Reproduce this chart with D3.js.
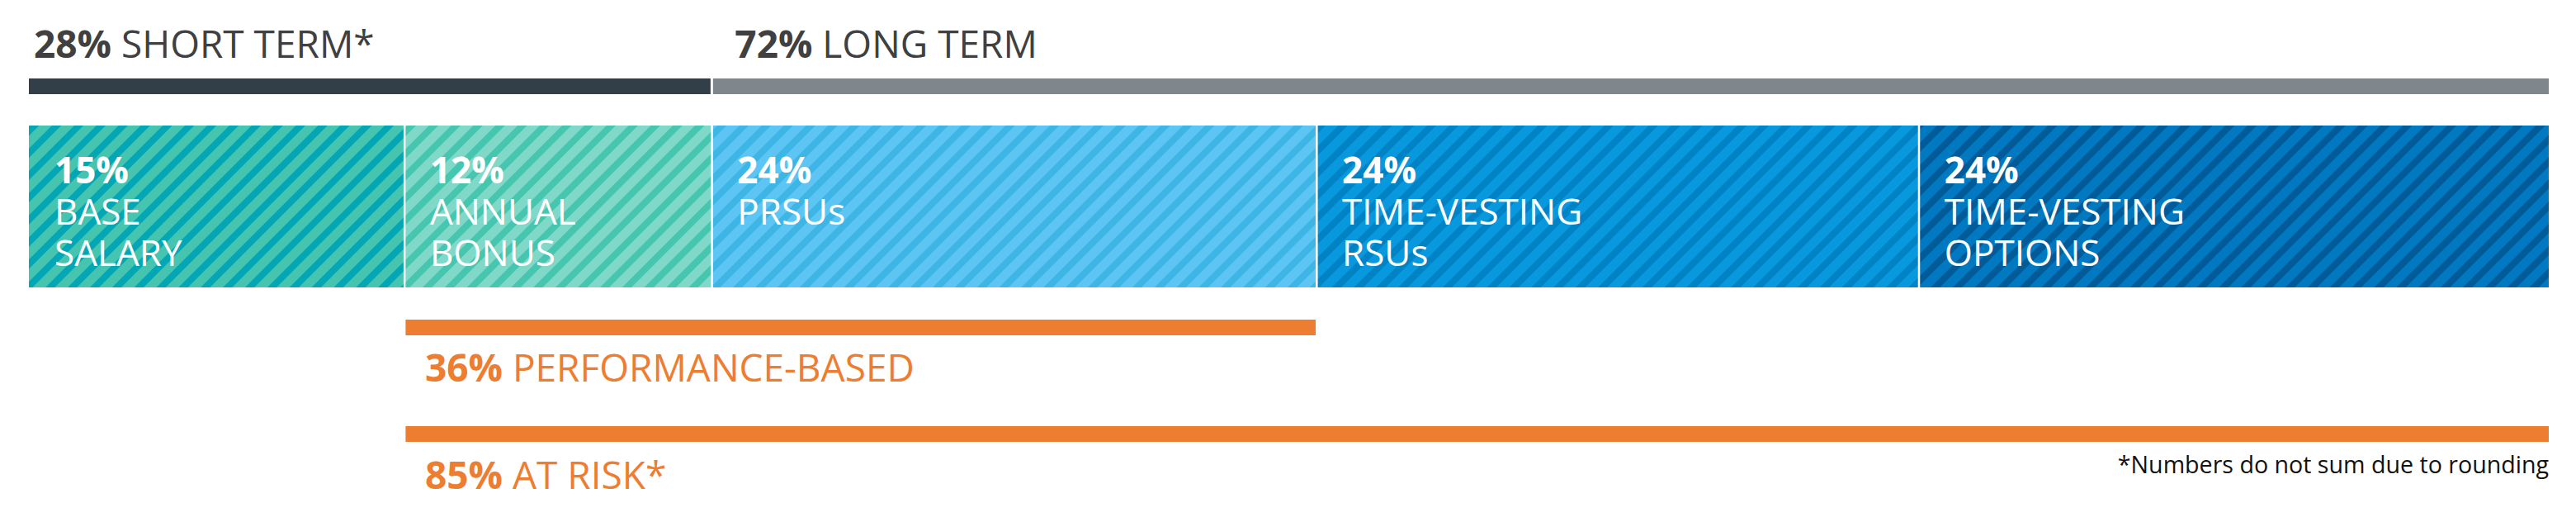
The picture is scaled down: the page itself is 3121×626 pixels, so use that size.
<!DOCTYPE html>
<html>
<head>
<meta charset="utf-8">
<script src="https://cdn.jsdelivr.net/npm/d3@7"></script>
<style>
  html, body { margin: 0; padding: 0; background: #ffffff; }
  svg { display: block; }
</style>
</head>
<body>
<svg id="chart" width="3121" height="626"></svg>
<script>
// ---------------- DATA ----------------
const segmentKeys   = ["base", "bonus", "prsu", "rsu", "options"];
const segmentPct    = ["15%", "12%", "24%", "24%", "24%"];
// visual share of the full bar
const segmentShare  = [14.9, 12.2, 24.0, 23.9, 25.0];
const segmentLines  = [["BASE", "SALARY"], ["ANNUAL", "BONUS"], ["PRSUs"], ["TIME-VESTING", "RSUs"], ["TIME-VESTING", "OPTIONS"]];
const segmentLight  = ["#45C4B0", "#80D8C8", "#5DC5F3", "#0898DD", "#0079C1"];
const segmentDark   = ["#03A6B4", "#46C5AF", "#3EB6E5", "#0083C4", "#005B98"];

const termPct       = ["28%", "72%"];
const termLabel     = ["SHORT TERM*", "LONG TERM"];
const termFrom      = [0, 2];
const termTo        = [1, 4];
const termColor     = ["#333F48", "#7F878D"];

const riskPct       = ["36%", "85%"];
const riskLabel     = ["PERFORMANCE-BASED", "AT RISK*"];
const riskFrom      = [1, 1];
const riskTo        = [2, 4];

const footnote      = "*Numbers do not sum due to rounding";

// ---------------- LAYOUT ----------------
const svg = d3.select("#chart");
const FONT = "'Open Sans', 'DejaVu Sans', sans-serif";

const cum = [0];
segmentShare.forEach((v, i) => cum.push(cum[i] + v));
const x = d3.scaleLinear().domain([0, cum[cum.length - 1]]).range([35, 3088]);

const rows = { term: [95, 114], seg: [152, 348], perf: [387, 406], risk: [516, 535] };

// patterns
const defs = svg.append("defs");
segmentKeys.forEach((k, i) => {
  const p = defs.append("pattern")
    .attr("id", "stripe-" + k)
    .attr("patternUnits", "userSpaceOnUse")
    .attr("width", 19).attr("height", 19)
    .attr("patternTransform", "rotate(45)");
  p.append("rect").attr("width", 19).attr("height", 19).attr("fill", segmentLight[i]);
  p.append("rect").attr("width", 8).attr("height", 19).attr("fill", segmentDark[i]);
});

// segment bars
const segData = segmentKeys.map((k, i) => ({ k, i, x0: cum[i], x1: cum[i + 1] }));
svg.append("g").selectAll("rect").data(segData).join("rect")
  .attr("x", d => x(d.x0) + (d.i === 0 ? 0 : 1.5))
  .attr("width", d => x(d.x1) - x(d.x0) - (d.i === 0 ? 0 : 1.5) - (d.i === segData.length - 1 ? 0 : 1))
  .attr("y", rows.seg[0])
  .attr("height", rows.seg[1] - rows.seg[0])
  .attr("fill", d => "url(#stripe-" + d.k + ")");

// segment labels (one text per line)
const segG = svg.append("g")
  .style("font-family", FONT)
  .style("font-size", "44px")
  .attr("fill", "#ffffff");
segData.forEach(d => {
  const lx = x(d.x0) + 31;
  segG.append("text").attr("x", lx).attr("y", 222)
    .attr("font-weight", 700).text(segmentPct[d.i]);
  segmentLines[d.i].forEach((line, j) => {
    segG.append("text").attr("x", lx).attr("y", 272 + j * 49.5)
      .attr("font-weight", 400).text(line);
  });
});

// term bars (top)
const termData = termPct.map((p, i) => ({ i, x0: cum[termFrom[i]], x1: cum[termTo[i] + 1] }));
svg.append("g").selectAll("rect").data(termData).join("rect")
  .attr("x", d => x(d.x0) + (d.i === 0 ? 0 : 1.5))
  .attr("width", d => x(d.x1) - x(d.x0) - (d.i === 0 ? 0 : 1.5) - (d.i === termData.length - 1 ? 0 : 1.5))
  .attr("y", rows.term[0])
  .attr("height", rows.term[1] - rows.term[0])
  .attr("fill", d => termColor[d.i]);

const termText = svg.append("g").selectAll("text").data(termData).join("text")
  .attr("x", d => x(d.x0) + (d.i === 0 ? 6 : 28))
  .attr("y", 70)
  .attr("fill", "#404040")
  .style("font-family", FONT)
  .style("font-size", "46px");
termText.append("tspan").attr("font-weight", 700).text(d => termPct[d.i]);
termText.append("tspan").attr("font-weight", 400).text(d => " " + termLabel[d.i]);

// risk bars (orange, bottom)
const riskRows = ["perf", "risk"];
const riskBase = [462, 592];
const riskData = riskPct.map((p, i) => ({ i, x0: cum[riskFrom[i]], x1: cum[riskTo[i] + 1] }));
svg.append("g").selectAll("rect").data(riskData).join("rect")
  .attr("x", d => x(d.x0) + 1.5)
  .attr("width", d => x(d.x1) - x(d.x0) - 1.5 - (d.i === 0 ? 1 : 0))
  .attr("y", d => rows[riskRows[d.i]][0])
  .attr("height", d => rows[riskRows[d.i]][1] - rows[riskRows[d.i]][0])
  .attr("fill", "#ED7D31");

const riskText = svg.append("g").selectAll("text").data(riskData).join("text")
  .attr("x", d => x(d.x0) + 25)
  .attr("y", d => riskBase[d.i])
  .attr("fill", "#ED7D31")
  .style("font-family", FONT)
  .style("font-size", "46px");
riskText.append("tspan").attr("font-weight", 700).text(d => riskPct[d.i]);
riskText.append("tspan").attr("font-weight", 400).text(d => " " + riskLabel[d.i]);

// footnote
svg.append("text")
  .attr("x", x(cum[cum.length - 1]))
  .attr("y", 573)
  .attr("text-anchor", "end")
  .attr("fill", "#111111")
  .style("font-family", FONT)
  .style("font-size", "28.6px")
  .text(footnote);
</script>
</body>
</html>
